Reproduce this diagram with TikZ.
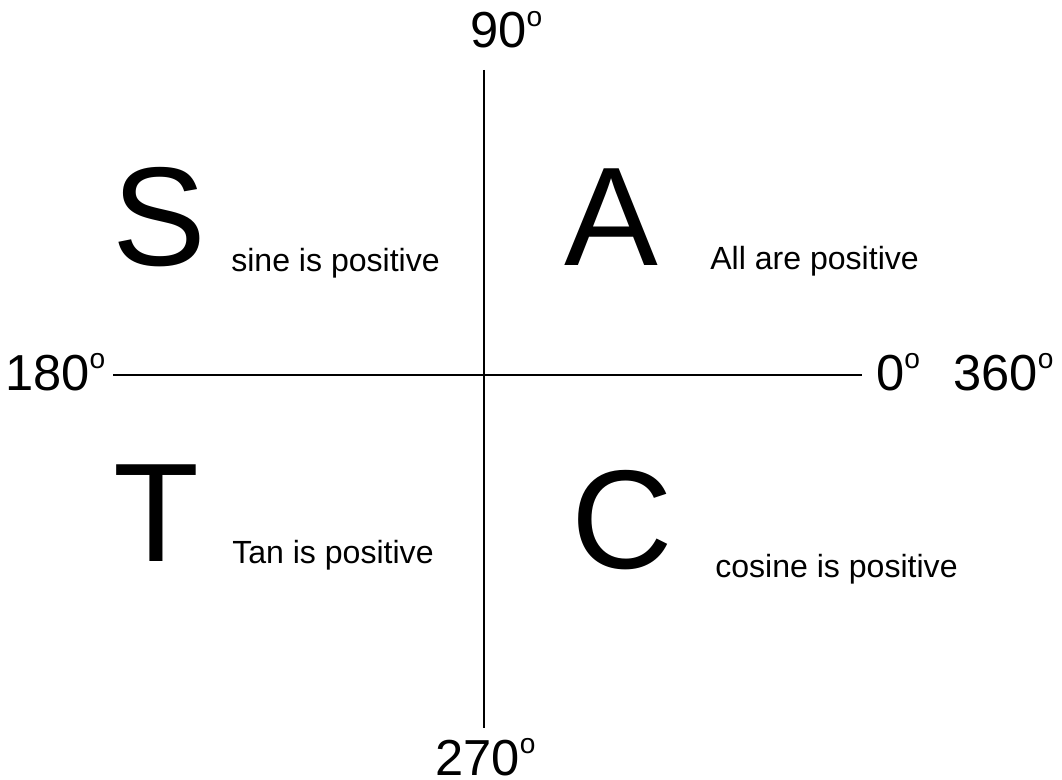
\documentclass[tikz,border=0pt]{standalone}
\usepackage{fontspec}
\setmainfont{Liberation Sans}
\usepackage{tikz}
\usetikzlibrary{positioning}

\newcommand{\dg}{\raisebox{15pt}{\fontsize{20}{20}\selectfont o}}

\begin{document}
\begin{tikzpicture}[x=0.025cm, y=-0.025cm,
    angle/.style={inner sep=0pt, anchor=base west, font=\fontsize{36}{36}\selectfont},
    letter/.style={inner sep=0pt, anchor=base west, font=\fontsize{100}{100}\selectfont},
    note/.style={inner sep=0pt, anchor=base west, font=\fontsize{22.8}{22.8}\selectfont}]
      % Frame
      \useasboundingbox (0,0) rectangle (1062,780);

      % Axes
      \coordinate (top) at (484,70);
      \coordinate (bottom) at (484,728);
      \coordinate (left) at (113,375);
      \coordinate (right) at (862,375);
      \draw[line width=0.8pt] (top) -- (bottom);
      \draw[line width=0.8pt] (left) -- (right);

      % Angle labels
      \node[angle] (deg90) at (470,48) {90\dg};
      \node[angle] (deg270) at (435,775) {270\dg};
      \node[angle] (deg180) at (5,390) {180\dg};
      \node[angle] (deg0) at (876,390) {0\dg};
      \node[angle] (deg360) at (953,390) {360\dg};

      % Quadrant letters
      \node[letter] (S) at (112,266) {S};
      \node[letter] (A) at (564,266) {A};
      \node[letter] (T) at (113,561) {T};
      \node[letter] (C) at (571,568) {C};

      % Quadrant notes
      \node[note] (sine) at (231,272) {sine is positive};
      \node[note] (all) at (710,270) {All are positive};
      \node[note] (tan) at (232,563) {Tan is positive};
      \node[note] (cosine) at (715,577) {cosine is positive};
\end{tikzpicture}
\end{document}
